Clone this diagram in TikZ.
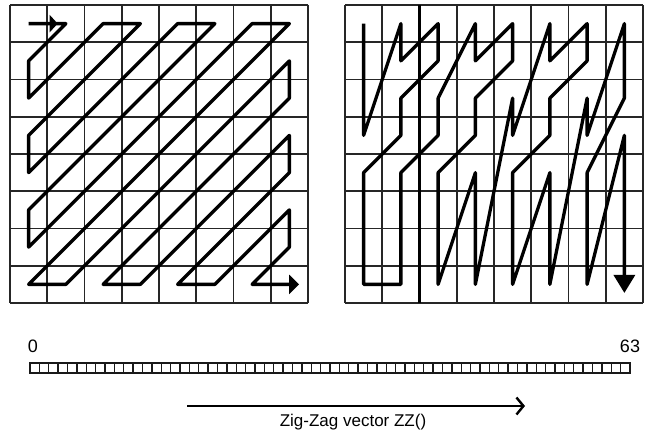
\documentclass[tikz,border=0pt]{standalone}
\usepackage{fontspec}
\setmainfont{Liberation Sans}
\usetikzlibrary{arrows.meta}
\tikzset{
  gridline/.style={line width=1.6pt, draw=black!85},
  thickgrid/.style={line width=3pt, draw=black},
  zz/.style={line width=3.3pt, draw=black, line join=round},
  cellbox/.style={line width=1.4pt, draw=black!90},
  digit/.style={font=\fontsize{18}{18}\selectfont, inner sep=0pt},
  label/.style={font=\fontsize{17}{17}\selectfont, inner sep=0pt}
}
\begin{document}
\begin{tikzpicture}[x=1pt,y=-1pt]
\useasboundingbox (0,0) rectangle (645,433);
\fill[white] (0,0) rectangle (645,433);
% ---------- left grid ----------
\begin{scope}[shift={(10,5)}, x=37.25pt, y=-37.25pt]
  \foreach \i in {0,...,8} {
    \draw[gridline] (\i,0) -- (\i,8);
    \draw[gridline] (0,\i) -- (8,\i);
  }
  \begin{scope}[shift={(0.5,0.5)}]
    \draw[zz, -{Triangle[length=10pt,width=19pt]}]
      (0,0) -- (1,0) -- (0,1) -- (0,2) -- (2,0) -- (3,0) -- (0,3) -- (0,4)
      -- (4,0) -- (5,0) -- (0,5) -- (0,6) -- (6,0) -- (7,0) -- (0,7) -- (1,7)
      -- (7,1) -- (7,2) -- (2,7) -- (3,7) -- (7,3) -- (7,4) -- (4,7) -- (5,7)
      -- (7,5) -- (7,6) -- (6,7) -- (7.26,7);
    \draw[zz, -{Triangle[length=8pt,width=17pt]}] (0,0) -- (0.78,0);
  \end{scope}
\end{scope}
% ---------- right grid ----------
\begin{scope}[shift={(345,5)}, x=37.25pt, y=-37.25pt]
  \foreach \i in {0,...,8} {
    \draw[gridline] (\i,0) -- (\i,8);
    \draw[gridline] (0,\i) -- (8,\i);
  }
  \draw[thickgrid] (2,0) -- (2,8);
  \begin{scope}[shift={(0.5,0.5)}]
    \draw[zz, -{Triangle[length=18pt,width=21pt]}]
      (0,0) -- (0,3) -- (1,0) -- (1,1) -- (2,0) -- (2,1) -- (1,2) -- (1,3)
      -- (0,4) -- (0,7) -- (1,7) -- (1,4) -- (2,3) -- (2,2) -- (3,0) -- (3,1)
      -- (4,0) -- (4,1) -- (3,2) -- (3,3) -- (2,4) -- (2,7) -- (3,4) -- (3,7)
      -- (4,2) -- (4,3) -- (5,0) -- (5,1) -- (6,0) -- (6,1) -- (5,2) -- (5,3)
      -- (4,4) -- (4,7) -- (5,4) -- (5,7) -- (6,2) -- (6,3) -- (7,0) -- (7,2)
      -- (6,4) -- (6,7) -- (7,3) -- (7,7.23);
  \end{scope}
\end{scope}
% ---------- vector ----------
\node[digit] (zero) at (33,346) {0};
\node[digit] (sixtythree) at (630,346) {63};
\foreach \i in {0,...,63} {
  \draw[cellbox] ({30+\i*9.375},363) rectangle ++(9.375,10);
}
\coordinate (arrS) at (187,406);
\coordinate (arrE) at (525,406);
\draw[line width=2.6pt, -{Straight Barb[length=7pt,width=17pt,line width=2.4pt]}] (arrS) -- (arrE);
\node[label] (lbl) at (353,422) {Zig-Zag vector ZZ()};
\end{tikzpicture}
\end{document}
